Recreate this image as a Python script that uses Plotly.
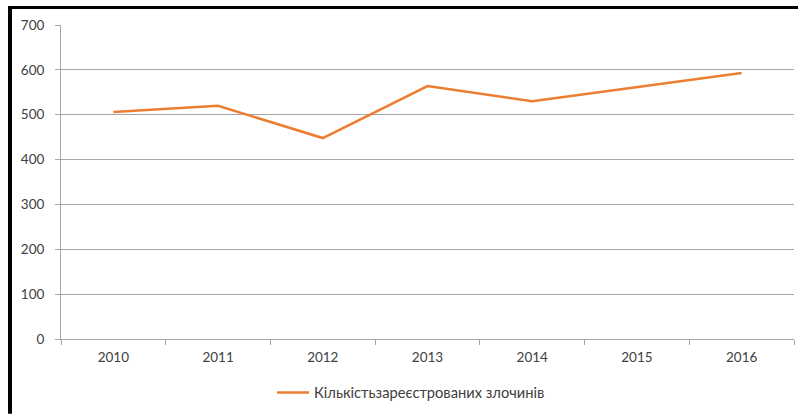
import plotly.graph_objects as go

years = ["2010", "2011", "2012", "2013", "2014", "2015", "2016"]
crimes = [506, 520, 448, 564, 530, 561, 593]
series_name = "Кількістьзареєстрованих злочинів"
y_ticks = [0, 100, 200, 300, 400, 500, 600, 700]

W, H = 801, 415
L, R, T, B = 61, 7, 25, 75
pw, ph = W - L - R, H - T - B

def px_x(px):
    return (px - L) / pw

def px_y(py):
    return (H - B - py) / ph

fig = go.Figure()
fig.add_trace(go.Scatter(
    x=years, y=crimes, mode="lines", name=series_name,
    line=dict(color="#ED7D31", width=2.5),
))

grid = "#A6A6A6"
fig.update_layout(
    width=W, height=H,
    margin=dict(l=L, r=R, t=T, b=B),
    paper_bgcolor="white", plot_bgcolor="white",
    font=dict(family="Lato, 'Open Sans', sans-serif", size=13.5, color="#404040"),
    showlegend=True,
    legend=dict(orientation="h", x=px_x(272), xanchor="left", y=px_y(393), yanchor="middle",
                font=dict(size=14.7, color="#404040"), itemwidth=32),
    xaxis=dict(type="category", showgrid=False, showline=True, linecolor=grid, linewidth=1,
               ticks="outside", ticklen=5, tickcolor=grid, tickson="boundaries",
               ticklabelstandoff=6, range=[-0.5, 6.5]),
    yaxis=dict(range=[0, 700], tickvals=y_ticks, showgrid=True, gridcolor=grid, gridwidth=1,
               showline=True, linecolor=grid, linewidth=1, ticks="outside", ticklen=5,
               tickcolor=grid, zeroline=False, ticklabelstandoff=8),
    shapes=[
        dict(type="rect", xref="paper", yref="paper", x0=px_x(8), x1=px_x(12),
             y0=px_y(415), y1=px_y(6), fillcolor="black", line=dict(width=0)),
        dict(type="rect", xref="paper", yref="paper", x0=px_x(8), x1=px_x(798),
             y0=px_y(9), y1=px_y(6), fillcolor="black", line=dict(width=0)),
    ],
)

fig.write_html("out.html", post_script="document.body.style.margin='0';",
               config={"displayModeBar": False})
